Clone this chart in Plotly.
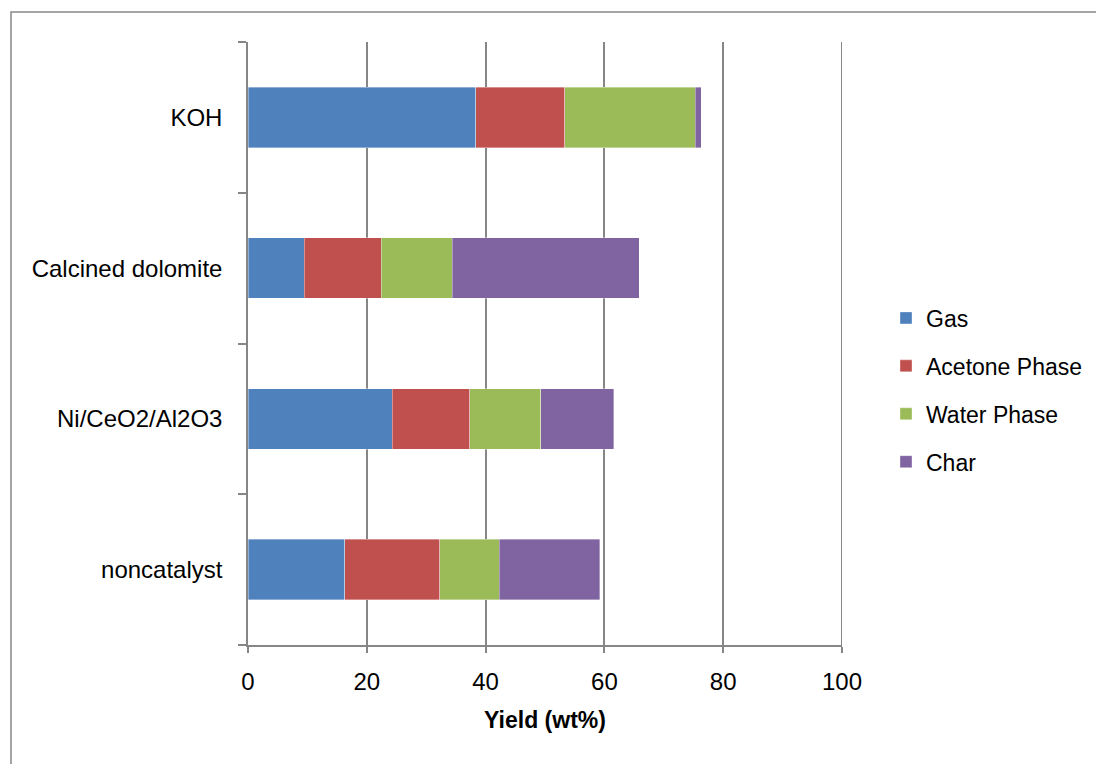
import plotly.graph_objects as go

categories = ["noncatalyst", "Ni/CeO2/Al2O3", "Calcined dolomite", "KOH"]
series_names = ["Gas", "Acetone Phase", "Water Phase", "Char"]
gas = [16.3, 24.3, 9.5, 38.3]
acetone = [16.0, 13.0, 12.9, 15.0]
water = [10.0, 12.0, 12.0, 22.0]
char = [16.9, 12.3, 31.5, 1.0]
x_ticks = [0, 20, 40, 60, 80, 100]

colors = ["#4F81BD", "#C0504D", "#9BBB59", "#8064A2"]
FONT = "Liberation Sans, Arial, sans-serif"

fig = go.Figure()
for name, vals, col in zip(series_names, [gas, acetone, water, char], colors):
    fig.add_trace(go.Bar(
        y=categories, x=vals, name=name, orientation="h",
        marker=dict(color=col, line=dict(color="rgba(255,255,255,0.6)", width=0.6)),
        legendgroup=name,
    ))

W, H = 1096, 764
L, R, T, B = 248, 254, 42, 119
pw = W - L - R
ph = H - T - B

def px2x(p):
    return (p - L) / pw

def px2y(p):
    return (H - B - p) / ph

fig.update_layout(
    width=W, height=H,
    margin=dict(l=L, r=R, t=T, b=B, autoexpand=False),
    barmode="stack",
    bargap=0.6,
    plot_bgcolor="white",
    paper_bgcolor="white",
    font=dict(family=FONT, size=24, color="black"),
    showlegend=True,
    legend=dict(
        x=px2x(886), xanchor="left",
        y=px2y(390), yanchor="middle",
        traceorder="grouped",
        tracegroupgap=15,
        font=dict(family=FONT, size=23),
        itemwidth=30,
        bgcolor="rgba(0,0,0,0)",
    ),
    xaxis=dict(
        range=[0, 100],
        tickvals=x_ticks,
        showgrid=True, gridcolor="#868686", gridwidth=1.5,
        showline=True, linecolor="#868686", linewidth=1.5,
        ticks="outside", ticklen=6, tickcolor="#868686", tickwidth=1.5,
        zeroline=False,
        ticklabelstandoff=8,
        title=dict(text="<b>Yield (wt%)</b>", font=dict(family=FONT, size=23), standoff=18),
        tickfont=dict(family=FONT, size=24),
    ),
    yaxis=dict(
        showgrid=False,
        showline=True, linecolor="#868686", linewidth=1.5,
        ticks="outside", ticklen=8, tickcolor="#868686", tickwidth=1.5,
        tickson="boundaries",
        ticklabelstandoff=19,
        tickfont=dict(family=FONT, size=24),
        zeroline=False,
    ),
    shapes=[
        dict(
            type="rect", xref="paper", yref="paper",
            x0=px2x(11), x1=px2x(1110), y0=px2y(790), y1=px2y(12),
            line=dict(color="#888888", width=1.5), fillcolor="rgba(0,0,0,0)", layer="below",
        ),
        dict(
            type="line", xref="x", yref="paper",
            x0=x_ticks[-1], x1=x_ticks[-1], y0=0, y1=1,
            line=dict(color="#868686", width=2), layer="below",
        ),
    ],
)

fig.write_html("out.html")
